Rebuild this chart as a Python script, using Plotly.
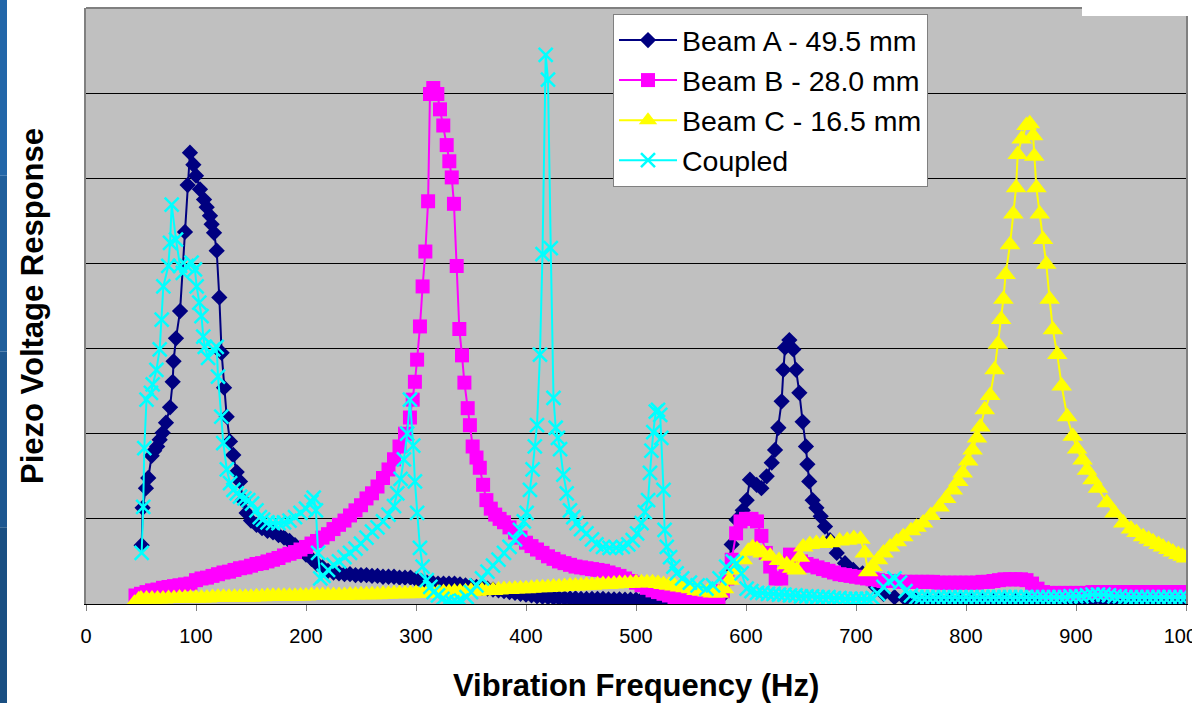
import plotly.graph_objects as go

# ---------------- data ----------------
beam_a_freq = [50.6, 51.5, 54.5, 56.6, 59.7, 62.0, 64.7, 67.0, 69.7, 72.7, 76.4, 78.8, 79.6, 81.8, 85.5,
               90.0, 92.4, 94.5, 97.6, 100.0, 103.6, 107.3, 109.7, 112.7, 114.2, 116.4, 118.8, 121.2,
               123.3, 125.5, 127.9, 130.9, 133.9, 137.0, 140.0, 142.7, 146.0, 150, 155, 160, 165, 170,
               175, 180, 185, 190, 195, 200, 205, 210, 215, 220, 225, 230, 235, 240, 245, 250, 255, 260,
               265, 270, 275, 280, 285, 290, 295, 300, 305, 310, 315, 320, 325, 330, 335, 340, 345, 350,
               355, 360, 365, 370, 375, 380, 385, 390, 395, 400, 405, 410, 415, 420, 425, 430, 435, 440,
               445, 450, 455, 460, 465, 470, 475, 480, 485, 490, 495, 500, 505, 510, 515, 520, 525, 530,
               535, 540, 545, 550, 555, 560, 565, 570, 577, 582, 587, 591.5, 597, 600.6, 603.6,
               609.7, 614, 618.8, 623.4, 626.4, 629.4, 632.4, 634, 635.5, 639.4, 643, 645.5, 648.5,
               651.5, 654.5, 655.8, 657.5, 660.6, 664, 667.9, 671.8, 676.4, 682.5, 690, 697.5, 706, 712,
               718, 725, 735, 745, 755, 765, 775, 785, 795, 805, 815, 825, 835, 845, 855, 865, 875, 885,
               895, 905, 915, 925, 935, 945, 955, 965, 975, 985, 995, 1000]
beam_a_resp = [0.69, 1.13, 1.36, 1.48, 1.74, 1.80, 1.85, 1.93, 2.01, 2.13, 2.31, 2.61, 2.85, 3.12, 3.44,
               4.37, 4.92, 5.30, 5.16, 5.03, 4.87, 4.75, 4.66, 4.56, 4.46, 4.36, 4.15, 3.60,
               2.95, 2.54, 2.20, 1.91, 1.75, 1.55, 1.44, 1.22, 1.07, 0.98, 0.93, 0.89, 0.86, 0.84,
               0.81, 0.78, 0.74, 0.69, 0.64, 0.58, 0.53, 0.47, 0.43, 0.39, 0.37, 0.36, 0.35, 0.35, 0.34, 0.34, 0.34, 0.33,
               0.33, 0.32, 0.32, 0.32, 0.31, 0.31, 0.31, 0.29, 0.27, 0.25, 0.25, 0.24, 0.24, 0.24, 0.24, 0.23, 0.22, 0.21,
               0.20, 0.19, 0.18, 0.17, 0.16, 0.15, 0.14, 0.13, 0.12, 0.11, 0.10, 0.09, 0.085, 0.08, 0.075, 0.07, 0.07, 0.065,
               0.065, 0.06, 0.06, 0.06, 0.06, 0.06, 0.055, 0.055, 0.055, 0.05, 0.05, 0.05, 0.05, 0.05, 0.05, 0.05, 0.05, 0.05,
               0.05, 0.05, 0.05, 0.05, 0.05, 0.05, 0.05, 0.05, 0.08, 0.30, 0.70, 0.99, 1.10, 1.22, 1.46,
               1.40, 1.36, 1.50, 1.66, 1.81, 2.07, 2.38, 2.75, 3.01, 3.10, 2.99, 2.75, 2.48,
               2.14, 1.85, 1.64, 1.44, 1.22, 1.13, 1.03, 0.91, 0.75, 0.60, 0.48, 0.40, 0.36, 0.30,
               0.20, 0.12, 0.08, 0.06, 0.05, 0.05, 0.05, 0.05, 0.04, 0.04, 0.04, 0.04, 0.04, 0.04, 0.04, 0.04, 0.04, 0.04,
               0.04, 0.04, 0.04, 0.04, 0.04, 0.04, 0.04, 0.04, 0.04, 0.04, 0.04, 0.04]

beam_b_freq = [45, 50, 55, 60, 65, 70, 75, 80, 85, 90, 95, 100, 105, 110, 115, 120, 125, 130, 135, 140,
               145, 150, 155, 160, 165, 170, 175, 180, 185, 190, 195, 200, 205, 210, 215, 220, 225, 230,
               235, 240, 245, 250, 255, 260, 265, 270, 275, 280, 285, 290, 294.5, 297, 299, 301, 303.6,
               306, 308.5, 311, 312.7, 315.7, 319.4, 321.8, 324.8, 327.9, 330.3, 332.5, 334.5, 337,
               339.4, 341.8, 344, 347, 349, 351.5, 355, 358, 361, 364, 368, 372, 376, 380, 385, 390,
               395, 400, 405, 410, 415, 420, 425, 430, 435, 440, 445, 450, 455, 460, 465, 470, 475, 480,
               485, 490, 495, 500, 505, 510, 515, 520, 525, 530, 535, 540, 545, 550, 555, 560, 565, 570,
               575, 579, 583, 587, 591, 595, 600, 605, 610, 614, 618, 622, 627, 632, 636, 640, 645, 650,
               655, 660, 665, 670, 675, 680, 685, 690, 695, 700, 705, 710, 715, 720, 725, 730, 735, 740,
               745, 750, 755, 760, 765, 770, 775, 780, 785, 790, 795, 800, 805, 810, 815, 820, 825, 830,
               835, 840, 845, 850, 855, 860, 865, 870, 875, 880, 885, 890, 895, 900, 905, 910, 915, 920,
               925, 930, 935, 940, 945, 950, 955, 960, 965, 970, 975, 980, 985, 990, 995, 1000]
beam_b_resp = [0.10, 0.12, 0.14, 0.16, 0.17, 0.19, 0.20, 0.21, 0.22, 0.23, 0.24, 0.28, 0.30, 0.31, 0.33, 0.35, 0.37, 0.38, 0.40, 0.42,
               0.43, 0.45, 0.47, 0.48, 0.50, 0.52, 0.54, 0.57, 0.59, 0.61, 0.64, 0.67, 0.71, 0.74, 0.78, 0.82, 0.88, 0.93,
               0.98, 1.04, 1.10, 1.16, 1.24, 1.30, 1.38, 1.48, 1.58, 1.70, 1.85, 2.00, 2.19, 2.40, 2.61, 2.87, 3.26,
               3.73, 4.14, 4.73, 5.99, 6.06, 5.99, 5.81, 5.62, 5.39, 5.20, 5.01, 4.70, 3.97,
               3.23, 2.92, 2.60, 2.30, 2.10, 1.85, 1.72, 1.60, 1.40, 1.22, 1.12, 1.05, 1.00, 0.96, 0.90, 0.84,
               0.78, 0.72, 0.68, 0.64, 0.60, 0.56, 0.53, 0.50, 0.48, 0.46, 0.44, 0.43, 0.42, 0.41, 0.40, 0.39, 0.37, 0.35,
               0.33, 0.30, 0.27, 0.25, 0.22, 0.19, 0.16, 0.14, 0.12, 0.10, 0.08, 0.07, 0.06, 0.05, 0.04, 0.03, 0.02, 0.03,
               0.08, 0.15, 0.30, 0.52, 0.83, 0.97, 1.00, 1.00, 0.97, 0.80, 0.60, 0.44, 0.30, 0.30, 0.45, 0.58, 0.55, 0.50,
               0.47, 0.45, 0.43, 0.41, 0.39, 0.37, 0.35, 0.34, 0.33, 0.32, 0.31, 0.30, 0.29, 0.28, 0.27, 0.27, 0.27, 0.26,
               0.26, 0.26, 0.26, 0.26, 0.26, 0.26, 0.25, 0.25, 0.25, 0.25, 0.25, 0.25, 0.25, 0.25, 0.26, 0.26, 0.27, 0.28,
               0.29, 0.29, 0.29, 0.29, 0.28, 0.24, 0.18, 0.14, 0.13, 0.13, 0.13, 0.13, 0.13, 0.13, 0.13, 0.13, 0.14, 0.14,
               0.14, 0.14, 0.14, 0.14, 0.14, 0.14, 0.14, 0.14, 0.14, 0.14, 0.14, 0.14, 0.14, 0.14, 0.14, 0.14]

beam_c_freq = [44, 48, 50, 55, 60, 65, 70, 75, 80, 85, 90, 95, 100, 105, 110, 115, 120, 125, 130, 135,
               140, 145, 150, 155, 160, 165, 170, 175, 180, 185, 190, 195, 200, 205, 210, 215, 220, 225,
               230, 235, 240, 245, 250, 255, 260, 265, 270, 275, 280, 285, 290, 295, 300, 305, 310, 315,
               320, 325, 330, 335, 340, 345, 350, 355, 360, 365, 370, 375, 380, 385, 390, 395, 400, 405,
               410, 415, 420, 425, 430, 435, 440, 445, 450, 455, 460, 465, 470, 475, 480, 485, 490, 495,
               500, 505, 510, 515, 520, 525, 530, 535, 540, 545, 550, 555, 560, 565, 570, 575, 580, 585,
               590, 597, 602, 606, 610, 615, 622, 630, 637, 642, 646, 649, 652, 658, 664, 670, 677, 685,
               692, 698, 704, 708, 711, 715, 720, 725, 731, 737, 743, 750, 755, 761, 768, 776, 782, 788,
               793, 797, 802, 806, 810, 813, 817, 822, 826, 829, 832, 834, 836, 840, 843, 845.5, 847,
               850.6, 855, 858, 861, 862, 864, 867, 870, 873, 876, 879, 883, 887, 892, 897, 901, 906,
               910, 915, 920, 928, 935, 943, 950, 955, 961, 966, 970, 975, 979, 984, 988, 993, 997, 1000]
beam_c_resp = [0.01, 0.05, 0.06, 0.06, 0.06, 0.06, 0.06, 0.065, 0.065, 0.07, 0.07, 0.07, 0.07, 0.07, 0.07, 0.075, 0.08, 0.08, 0.08, 0.08,
               0.08, 0.08, 0.08, 0.085, 0.085, 0.09, 0.09, 0.09, 0.09, 0.09, 0.09, 0.095, 0.095, 0.10, 0.10, 0.10, 0.10, 0.10,
               0.10, 0.10, 0.105, 0.105, 0.11, 0.11, 0.11, 0.11, 0.115, 0.115, 0.12, 0.12, 0.12, 0.12, 0.125, 0.125, 0.13, 0.13,
               0.13, 0.135, 0.135, 0.14, 0.14, 0.145, 0.15, 0.15, 0.155, 0.16, 0.16, 0.165, 0.17, 0.17, 0.175, 0.18, 0.18, 0.185,
               0.19, 0.19, 0.195, 0.20, 0.20, 0.205, 0.21, 0.21, 0.215, 0.22, 0.22, 0.225, 0.23, 0.23, 0.235, 0.24, 0.24, 0.245,
               0.25, 0.25, 0.25, 0.25, 0.24, 0.23, 0.22, 0.21, 0.20, 0.19, 0.18, 0.16, 0.15, 0.14, 0.13, 0.13, 0.18, 0.28,
               0.40, 0.52, 0.62, 0.66, 0.64, 0.60, 0.56, 0.51, 0.46, 0.42, 0.40, 0.55, 0.67, 0.70, 0.71, 0.71, 0.72, 0.74,
               0.75, 0.77, 0.76, 0.60, 0.38, 0.44, 0.52, 0.60, 0.67, 0.73, 0.79, 0.86, 0.90, 0.95, 1.04, 1.14, 1.24, 1.34,
               1.44, 1.54, 1.68, 1.81, 1.95, 2.08, 2.28, 2.45, 2.75, 3.05, 3.34, 3.58, 3.87, 4.22, 4.58, 4.89, 5.28,
               5.46, 5.62, 5.64, 5.50, 5.26, 4.89, 4.58, 4.28, 3.99, 3.58, 3.22, 2.93, 2.56, 2.20, 1.97, 1.82, 1.69,
               1.57, 1.46, 1.36, 1.19, 1.07, 0.95, 0.88, 0.84, 0.79, 0.76, 0.73, 0.70, 0.67, 0.64, 0.61, 0.58, 0.56, 0.54]

coupled_freq = [50.6, 52, 53, 55, 59, 60.6, 64, 67, 68.8, 70.3, 74.8, 76.4, 77.9, 81.8, 85.5, 88, 91.5, 96,
                99, 100.6, 103, 105, 106.6, 108, 111, 115.7, 118.8, 120, 123, 124.8, 128, 131, 134, 137,
                140, 144, 147.5, 151, 155, 158, 161, 165, 170, 175, 180, 185, 190, 195, 200, 205, 207,
                209, 211, 213, 216, 220, 225, 230, 235, 240, 245, 250, 255, 260, 265, 270, 275, 280, 283,
                286, 289, 292, 294.5, 297.5, 299, 301, 303.6, 306, 309.7, 313, 316, 320, 324, 328, 333,
                337, 341, 346, 350, 355, 360, 365, 370, 375, 380, 385, 390, 394.5, 398, 400.6, 403.6, 406,
                408, 410, 412.7, 415, 417.9, 420, 422.5, 425, 427, 429, 431, 434, 437, 440, 443, 446, 450,
                455, 460, 464, 470, 476, 482, 488, 493, 497, 501, 505, 508, 511, 512.7, 514, 515.7, 518,
                520, 522, 523, 525, 526, 528, 531, 534, 537, 542, 549, 556, 564, 570, 576, 582, 588, 591.5,
                596, 600.6, 605, 610, 615, 620, 625, 630, 635, 640, 645, 650, 655, 660, 665, 670, 675, 680,
                685, 690, 695, 700, 705, 710, 715, 720, 725, 730, 735, 740, 745, 750, 755, 760, 765, 770,
                775, 780, 785, 790, 795, 800, 805, 810, 815, 820, 825, 830, 835, 840, 845, 850, 855, 860,
                865, 870, 875, 880, 885, 890, 895, 900, 905, 910, 915, 920, 925, 930, 935, 940, 945, 950,
                955, 960, 965, 970, 975, 980, 985, 990, 995, 1000]
coupled_resp = [0.60, 1.14, 1.83, 2.40, 2.48, 2.58, 2.75, 2.99, 3.34, 3.73, 3.97, 4.24, 4.69, 4.28, 3.97, 3.89, 3.97, 4.01,
                3.93, 3.73, 3.54, 3.38, 3.14, 3.02, 2.89, 2.99, 3.02, 2.67, 2.20, 1.89, 1.58, 1.42, 1.34, 1.30,
                1.26, 1.24, 1.22, 1.18, 1.10, 1.02, 0.99, 0.96, 0.95, 0.95, 0.96, 0.98, 1.02, 1.07, 1.12, 1.20, 1.25,
                1.10, 0.60, 0.30, 0.33, 0.40, 0.46, 0.50, 0.55, 0.60, 0.65, 0.71, 0.78, 0.85, 0.90, 0.97, 1.05, 1.15, 1.30,
                1.47, 1.70, 2.00, 2.40, 1.86, 1.44, 1.07, 0.66, 0.44, 0.28, 0.20, 0.14, 0.10, 0.06, 0.03, 0.02,
                0.02, 0.04, 0.08, 0.14, 0.22, 0.30, 0.38, 0.45, 0.52, 0.60, 0.67, 0.76, 0.87, 0.97, 1.07, 1.34, 1.58,
                1.85, 2.10, 2.93, 4.11, 6.45, 6.16, 4.18, 2.42, 2.07, 1.95, 1.82, 1.52, 1.30, 1.10, 1.02, 0.95, 0.88,
                0.83, 0.76, 0.70, 0.67, 0.66, 0.66, 0.67, 0.70, 0.75, 0.83, 0.95, 1.08, 1.22, 1.54, 1.80, 2.02, 2.26,
                2.28, 2.22, 1.95, 1.34, 0.87, 0.67, 0.55, 0.44, 0.36, 0.30, 0.25, 0.22, 0.18, 0.22, 0.30, 0.44, 0.50, 0.48,
                0.36, 0.18, 0.15, 0.13, 0.13, 0.12, 0.12, 0.11, 0.11, 0.10, 0.10, 0.09, 0.09, 0.09, 0.08, 0.08, 0.08, 0.07,
                0.07, 0.06, 0.06, 0.06, 0.06, 0.06, 0.07, 0.12, 0.20, 0.27, 0.30, 0.25, 0.15, 0.10, 0.08, 0.08, 0.08, 0.08,
                0.08, 0.08, 0.08, 0.08, 0.08, 0.08, 0.08, 0.08, 0.08, 0.08, 0.08, 0.08, 0.08, 0.08, 0.08, 0.08, 0.08, 0.08,
                0.08, 0.08, 0.08, 0.08, 0.08, 0.08, 0.09, 0.09, 0.09, 0.10, 0.11, 0.11, 0.11, 0.10, 0.09, 0.09, 0.08, 0.08,
                0.08, 0.08, 0.08, 0.08, 0.08, 0.08, 0.08, 0.08, 0.08, 0.08]

series_names = ["Beam A - 49.5 mm", "Beam B - 28.0 mm", "Beam C - 16.5 mm", "Coupled"]
x_ticks = [0, 100, 200, 300, 400, 500, 600, 700, 800, 900, 1000]
x_title = "Vibration Frequency (Hz)"
y_title = "Piezo Voltage Response"

# ---------------- figure ----------------
FONT = "Arial, Liberation Sans, Helvetica, sans-serif"
W, H = 1192, 703
L, R, T, B = 86, 6, 8, 99
pw, ph = W - L - R, H - T - B

def px_x(p):
    return (p - L) / pw

def px_y(p):
    return (H - B - p) / ph

styles = [
    dict(color="#000080", symbol="diamond", size=12.5, lw=0),
    dict(color="#FF00FF", symbol="square", size=14, lw=0),
    dict(color="#FFFF00", symbol="triangle-up", size=18, lw=0),
    dict(color="#00FFFF", symbol="x-thin", size=14, lw=2.5),
]
data = [(beam_a_freq, beam_a_resp), (beam_b_freq, beam_b_resp),
        (beam_c_freq, beam_c_resp), (coupled_freq, coupled_resp)]

fig = go.Figure()
for (xs, ys), name, st in zip(data, series_names, styles):
    marker = dict(symbol=st["symbol"], size=st["size"], color=st["color"],
                  line=dict(width=st["lw"], color=st["color"]))
    fig.add_trace(go.Scatter(x=xs, y=ys, name=name, mode="lines+markers",
                             line=dict(color=st["color"], width=2), marker=marker))

fig.update_layout(
    width=W, height=H,
    margin=dict(l=L, r=R, t=T, b=B, autoexpand=False),
    paper_bgcolor="white", plot_bgcolor="#C0C0C0",
    font=dict(family=FONT, color="black"),
    showlegend=True,
    legend=dict(x=px_x(613), y=px_y(14), xanchor="left", yanchor="top",
                bgcolor="white", bordercolor="#808080", borderwidth=1,
                font=dict(size=28.5, family=FONT), itemwidth=58, tracegroupgap=0),
    xaxis=dict(range=[0, 1000], tickvals=x_ticks, ticks="outside", ticklen=6, tickcolor="#808080",
               tickfont=dict(size=20, family=FONT), ticklabeloverflow="allow", ticklabelstandoff=8,
               showgrid=False, zeroline=False,
               showline=True, linecolor="black", linewidth=1, mirror=False, automargin=False),
    yaxis=dict(range=[0, 7], dtick=1, showticklabels=False, ticks="", showgrid=True,
               gridcolor="black", gridwidth=1, zeroline=False,
               showline=True, linecolor="#808080", linewidth=2, mirror=True, automargin=False),
    annotations=[
        dict(text="<b>%s</b>" % x_title, xref="paper", yref="paper", x=px_x(636), y=px_y(685),
             xanchor="center", yanchor="middle", showarrow=False, font=dict(size=31, family=FONT)),
        dict(text="<b>%s</b>" % y_title, xref="paper", yref="paper", x=px_x(32), y=px_y(306),
             xanchor="center", yanchor="middle", showarrow=False, textangle=-90,
             font=dict(size=31, family=FONT)),
    ],
)

# top border of plot area (grey)
fig.add_shape(type="line", xref="paper", yref="paper", x0=0, x1=1, y0=1, y1=1,
              line=dict(color="#808080", width=2), layer="above")
# blue strip on the left edge (slide background) and white patch at top right
strip_cols = ["#1a4f82", "#1d5790", "#205f9c", "#2266a8"]
for i, c in enumerate(strip_cols):
    y0 = H - (i + 1) * H / len(strip_cols)
    y1 = H - i * H / len(strip_cols)
    fig.add_shape(type="rect", xref="paper", yref="paper", x0=px_x(0), x1=px_x(7),
                  y0=px_y(y1), y1=px_y(y0), fillcolor=c, line=dict(width=0), layer="above")
fig.add_shape(type="rect", xref="paper", yref="paper", x0=px_x(1082), x1=px_x(1192),
              y0=px_y(16), y1=px_y(0), fillcolor="white", line=dict(width=0), layer="above")

fig.write_html("out.html", config={"displayModeBar": False},
               post_script="document.body.style.margin='0px';")
